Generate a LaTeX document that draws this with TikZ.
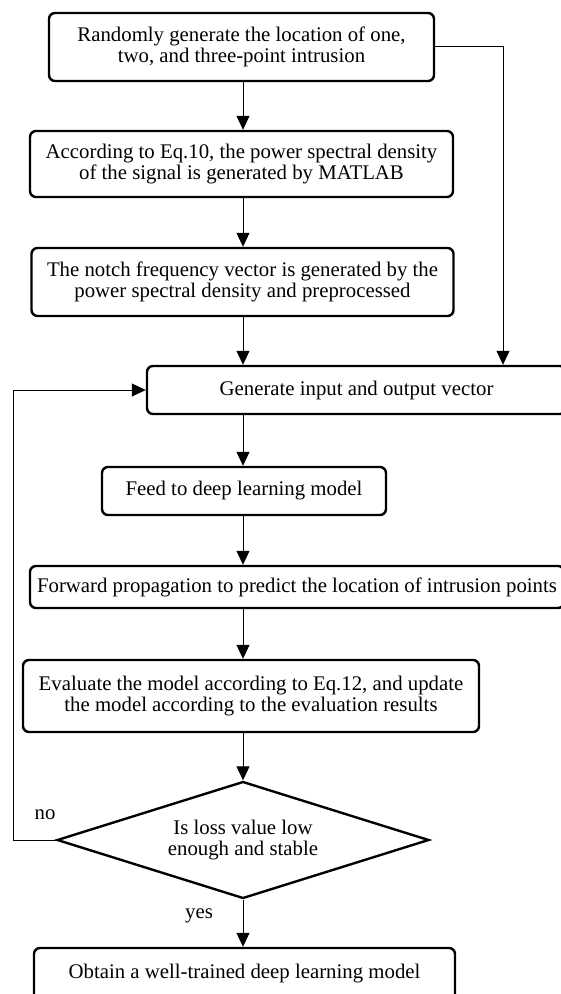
\documentclass[tikz,border=0pt]{standalone}
\usepackage{fontspec}
\setmainfont{Liberation Serif}
\usetikzlibrary{shapes.geometric, arrows.meta, positioning, calc}

\tikzset{
  stepbox/.style={draw, line width=1.2pt, rounded corners=3pt, align=center, inner sep=0pt},
  checkbox/.style={draw, diamond, line width=1.2pt, align=center, inner sep=0pt, aspect=3.2},
  arr/.style={line width=0.5pt, -{Triangle[length=7pt,width=6.5pt]}}
}

\begin{document}
\begin{tikzpicture}[x=0.5pt,y=-0.5pt]
        \useasboundingbox (0,0) rectangle (561,994);
        \clip (0,0) rectangle (561,994);
        \fontsize{10.4}{10.6}\selectfont
        \node[stepbox, minimum width=192.5pt, minimum height=34pt] (gen) at (241.5,47)
            {Randomly generate the location of one,\\ two, and three-point intrusion};
        \node[stepbox, minimum width=211.5pt, minimum height=33pt] (psd) at (241.5,164)
            {According to Eq.10, the power spectral density\\ of the signal is generated by MATLAB};
        \node[stepbox, minimum width=211pt, minimum height=34pt] (notch) at (242.5,282)
            {The notch frequency vector is generated by the\\ power spectral density and preprocessed};
        \node[stepbox, minimum width=209.5pt, minimum height=24pt] (io) at (356.5,390)
            {Generate input and output vector};
        \node[stepbox, minimum width=142pt, minimum height=24pt] (feed) at (244,491)
            {Feed to deep learning model};
        \node[stepbox, minimum width=267pt, minimum height=21pt] (fwd) at (297,587)
            {Forward propagation to predict the location of intrusion points};
        \node[stepbox, minimum width=228pt, minimum height=36pt] (eval) at (251,696)
            {Evaluate the model according to Eq.12, and update\\ the model according to the evaluation results};
        \node[checkbox, minimum width=186pt, minimum height=58.5pt] (loss) at (243,840)
            {Is loss value low\\ enough and stable};
        \node[stepbox, minimum width=210.5pt, minimum height=26pt] (done) at (244.5,974)
            {Obtain a well-trained deep learning model};
        \node (no) at (45,815) {no};
        \node (yes) at (199,916) {yes};
        % \draw[gray,very thin] (0,0) grid[step=50] (561,994);
        \coordinate (mid) at (243,0);
        \draw[arr] (mid |- gen.south) -- (mid |- psd.north);
        \draw[arr] (mid |- psd.south) -- (mid |- notch.north);
        \draw[arr] (mid |- notch.south) -- (mid |- io.north);
        \draw[arr] (mid |- io.south) -- (mid |- feed.north);
        \draw[arr] (mid |- feed.south) -- (mid |- fwd.north);
        \draw[arr] (mid |- fwd.south) -- (mid |- eval.north);
        \draw[arr] (mid |- eval.south) -- (loss.north);
        \draw[arr] (loss.south) -- (mid |- done.north);
        \coordinate (rgt) at (503,47);
        \draw[arr] (gen.east) -- (rgt) -- (rgt |- io.north);
        \coordinate (lft) at (13,840);
        \draw[arr] (loss.west) -- (lft) |- (io.west);
    \end{tikzpicture}
\end{document}
